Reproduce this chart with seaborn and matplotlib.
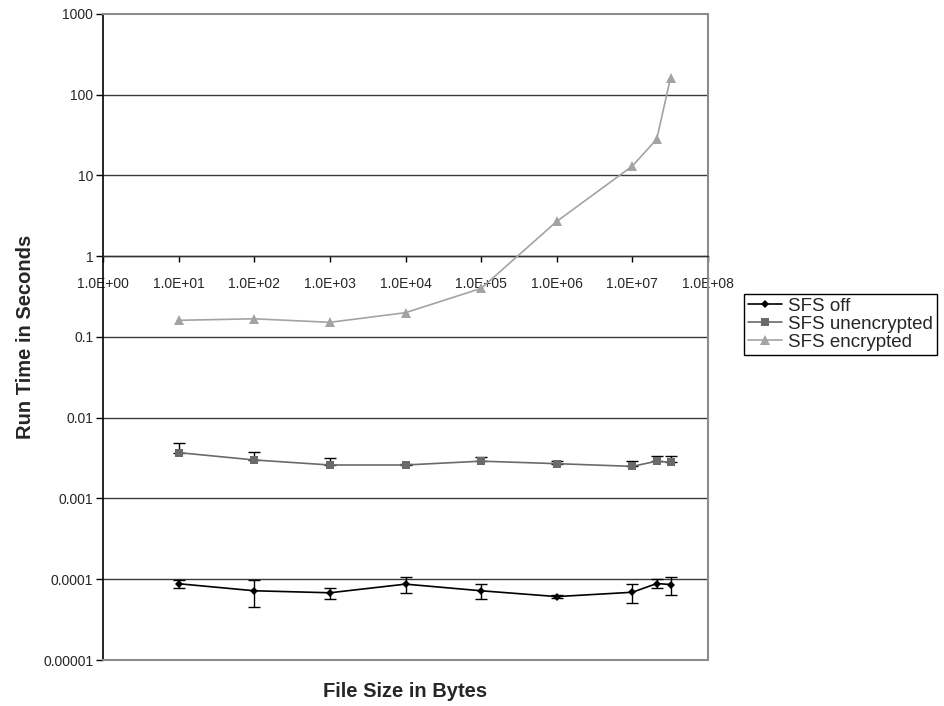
import numpy as np
import pandas as pd
import matplotlib
matplotlib.use('Agg')
import matplotlib.pyplot as plt
import seaborn as sns

# File sizes (bytes) and run times (seconds)
sizes = [1e1, 1e2, 1e3, 1e4, 1e5, 1e6, 1e7, 2.1e7, 3.2e7]

off_time = [8.8e-5, 7.2e-5, 6.8e-5, 8.7e-5, 7.2e-5, 6.1e-5, 6.9e-5, 8.85e-5, 8.6e-5]
off_err = [1.1e-5, 2.7e-5, 1.05e-5, 1.9e-5, 1.5e-5, 2e-6, 1.8e-5, 1.1e-5, 2.2e-5]

unenc_time = [0.0037, 0.0030, 0.0026, 0.0026, 0.0029, 0.0027, 0.0025, 0.0029, 0.0028]
unenc_err = [0.0012, 0.0008, 0.0006, 0.0001, 0.0004, 0.0002, 0.0004, 0.0005, 0.0006]

enc_time = [0.161, 0.168, 0.152, 0.20, 0.40, 2.7, 13.1, 28.2, 163]

x_ticks = [10.0 ** i for i in range(9)]
x_ticklabels = ['1.0E+%02d' % i for i in range(9)]
y_ticks = [10.0 ** i for i in range(-5, 4)]
y_ticklabels = ['0.00001', '0.0001', '0.001', '0.01', '0.1', '1', '10', '100', '1000']

sns.set_style('white')
plt.rcParams['font.family'] = ['Liberation Sans', 'DejaVu Sans']

fig = plt.figure(figsize=(9.44, 7.06), dpi=100)
ax = fig.add_axes([103 / 944, 1 - 660 / 706, (708 - 103) / 944, (660 - 14) / 706])
ax.set_xscale('log')
ax.set_yscale('log')

df_off = pd.DataFrame({'size': sizes, 'time': off_time})
df_unenc = pd.DataFrame({'size': sizes, 'time': unenc_time})
df_enc = pd.DataFrame({'size': sizes, 'time': enc_time})

# horizontal gridlines at each decade
for yv in y_ticks[1:-1]:
    ax.axhline(yv, color='#3a3a3a', lw=1.0, zorder=1)

# error bars first so markers sit on top
ax.errorbar(sizes, off_time, yerr=off_err, fmt='none', ecolor='black',
            elinewidth=1, capsize=4, capthick=1, zorder=2)
ax.errorbar(sizes, unenc_time, yerr=[np.zeros(len(sizes)), unenc_err], fmt='none',
            ecolor='black', elinewidth=1, capsize=4, capthick=1, zorder=2)

sns.lineplot(data=df_off, x='size', y='time', estimator=None, color='black',
             marker='D', markersize=4.5, markeredgewidth=0, lw=1.2,
             label='SFS off', ax=ax, zorder=3)
sns.lineplot(data=df_unenc, x='size', y='time', estimator=None, color='#6a6a6a',
             marker='s', markersize=6, markeredgewidth=0, lw=1.2,
             label='SFS unencrypted', ax=ax, zorder=3)
sns.lineplot(data=df_enc, x='size', y='time', estimator=None, color='#a3a3a3',
             marker='^', markersize=7.5, markeredgewidth=0, lw=1.2,
             label='SFS encrypted', ax=ax, zorder=3)

ax.set_xlim(1, 1e8)
ax.set_ylim(1e-5, 1e3)

# x axis crosses at y = 1, like the spreadsheet original
ax.spines['bottom'].set_position(('data', 1))
ax.spines['bottom'].set_color('#303030')
ax.spines['bottom'].set_linewidth(1)
ax.spines['left'].set_color('black')
ax.spines['left'].set_linewidth(1.2)
for side in ['top', 'right']:
    ax.spines[side].set_color('#8c8c8c')
    ax.spines[side].set_linewidth(1.5)
ax.axhline(1e-5, color='#8c8c8c', lw=1.5, zorder=4, clip_on=False)

ax.set_xticks(x_ticks)
ax.set_xticklabels(x_ticklabels)
ax.set_yticks(y_ticks)
ax.set_yticklabels(y_ticklabels)
ax.xaxis.set_minor_locator(matplotlib.ticker.NullLocator())
ax.yaxis.set_minor_locator(matplotlib.ticker.NullLocator())
ax.tick_params(axis='x', direction='out', length=4, width=1, color='black',
               labelsize=10, pad=11, bottom=True, top=False)
ax.tick_params(axis='y', direction='out', length=5, width=1, color='black',
               labelsize=10, pad=2, left=True, right=False)

ax.set_xlabel('')
ax.set_ylabel('')
fig.text(405 / 944, 1 - 697 / 706, 'File Size in Bytes', ha='center', va='baseline',
         fontsize=14.5, fontweight='bold')
fig.text(26 / 944, 1 - 337 / 706, 'Run Time in Seconds', ha='center', va='center',
         rotation=90, fontsize=14.5, fontweight='bold')

leg = ax.legend(loc='upper left', bbox_to_anchor=(744 / 944, 1 - 294 / 706),
                bbox_transform=fig.transFigure, frameon=True, fancybox=False,
                edgecolor='black', framealpha=1, fontsize=13.5, handlelength=1.8,
                borderpad=0.2, labelspacing=0.05, handletextpad=0.35, borderaxespad=0)
leg.get_frame().set_linewidth(1)

fig.savefig('out.png', dpi=100)
